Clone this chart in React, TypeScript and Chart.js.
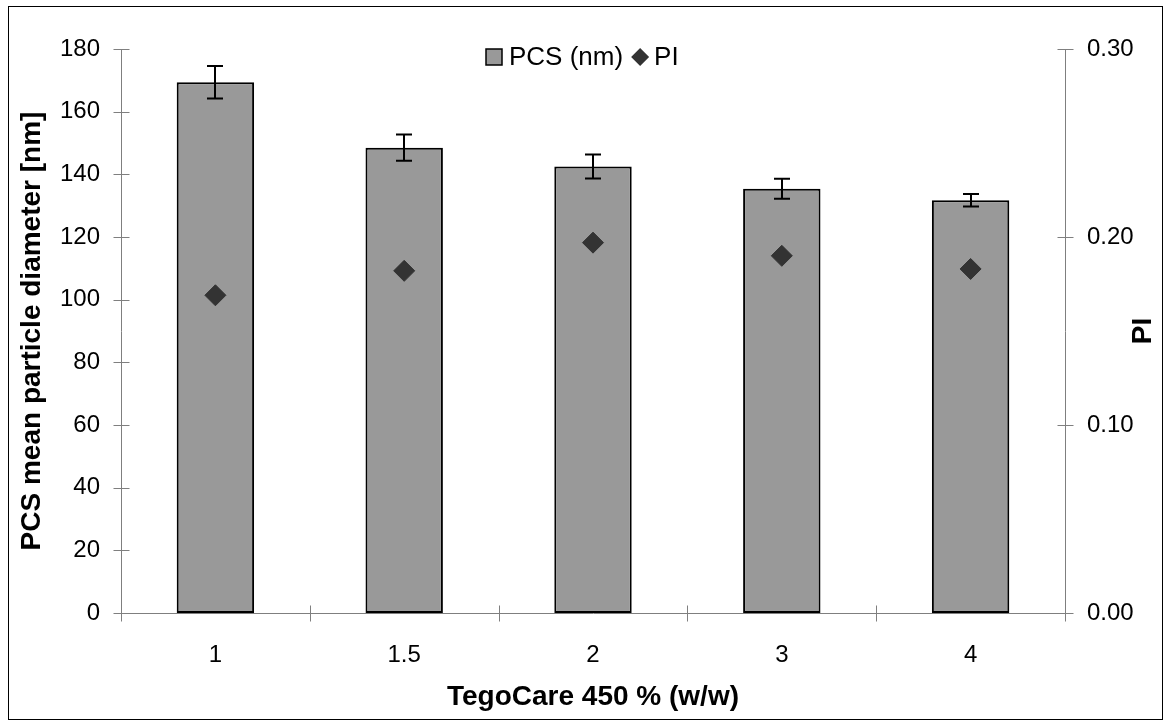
import React, { useEffect, useRef } from "react";
import { Chart, registerables } from "chart.js";

Chart.register(...registerables);

const categories = ["1", "1.5", "2", "3", "4"];
const pcsValues = [169.4, 148.5, 142.5, 135.4, 131.7];
const pcsErrors = [5.2, 4.2, 3.8, 3.2, 2.0];
const piValues = [0.169, 0.182, 0.197, 0.19, 0.183];
const leftTicks = [0, 20, 40, 60, 80, 100, 120, 140, 160, 180];
const rightTicks = [0, 0.1, 0.2, 0.3];
const rightTitle = "PI";

const FONT = "'Liberation Sans', Arial, sans-serif";
const AXIS_COLOR = "#7f7f7f";

const decorPlugin = {
  id: "decor",
  beforeDraw(chart: any) {
    const ctx = chart.ctx;
    ctx.save();
    ctx.fillStyle = "#ffffff";
    ctx.fillRect(0, 0, chart.width, chart.height);
    ctx.strokeStyle = "#000000";
    ctx.lineWidth = 1;
    ctx.strokeRect(8.5, 6.5, chart.width - 9, chart.height - 7);
    ctx.restore();
  },
  afterDraw(chart: any) {
    const ctx = chart.ctx;
    const { x, y, y1 } = chart.scales;
    ctx.save();
    ctx.strokeStyle = AXIS_COLOR;
    ctx.lineWidth = 1;
    ctx.beginPath();
    y.ticks.forEach((t: any) => {
      const py = Math.round(y.getPixelForValue(t.value)) + 0.5;
      const ax = Math.round(y.right) + 0.5;
      ctx.moveTo(ax - 8, py);
      ctx.lineTo(ax + 8, py);
    });
    y1.ticks.forEach((t: any) => {
      const py = Math.round(y1.getPixelForValue(t.value)) + 0.5;
      const ax = Math.round(y1.left) + 0.5;
      ctx.moveTo(ax - 8, py);
      ctx.lineTo(ax + 8, py);
    });
    const n = categories.length;
    const step = (x.right - x.left) / n;
    for (let i = 0; i <= n; i++) {
      const px = Math.round(x.left + i * step) + 0.5;
      const ay = Math.round(x.top) + 0.5;
      ctx.moveTo(px, ay - 8);
      ctx.lineTo(px, ay + 8);
    }
    ctx.stroke();

    // right axis title (rotated like Excel, reading upward)
    ctx.save();
    ctx.translate(1143, (chart.chartArea.top + chart.chartArea.bottom) / 2);
    ctx.rotate(-Math.PI / 2);
    ctx.font = `bold 28px ${FONT}`;
    ctx.fillStyle = "#000";
    ctx.textAlign = "center";
    ctx.textBaseline = "middle";
    ctx.fillText(rightTitle, 0, 0);
    ctx.restore();

    // custom legend
    const ds = chart.data.datasets;
    ctx.font = `26px ${FONT}`;
    ctx.textBaseline = "middle";
    const ly = 57;
    const lx = 486;
    ctx.fillStyle = "#999999";
    ctx.fillRect(lx, ly - 8, 16, 16);
    ctx.strokeStyle = "#000";
    ctx.lineWidth = 1.5;
    ctx.strokeRect(lx, ly - 8, 16, 16);
    ctx.fillStyle = "#000";
    ctx.textAlign = "left";
    ctx.fillText(ds[0].label, lx + 23, ly + 1);
    const w0 = ctx.measureText(ds[0].label).width;
    const dx = lx + 23 + w0 + 17;
    ctx.fillStyle = "#333333";
    ctx.beginPath();
    ctx.moveTo(dx - 9, ly);
    ctx.lineTo(dx, ly - 9);
    ctx.lineTo(dx + 9, ly);
    ctx.lineTo(dx, ly + 9);
    ctx.closePath();
    ctx.fill();
    ctx.fillStyle = "#000";
    ctx.fillText(ds[1].label, dx + 14, ly + 1);
    ctx.restore();
  },
  afterDatasetsDraw(chart: any) {
    const ctx = chart.ctx;
    const meta = chart.getDatasetMeta(0);
    const yScale = chart.scales.y;
    ctx.save();
    ctx.strokeStyle = "#000";
    ctx.lineWidth = 2;
    meta.data.forEach((bar: any, i: number) => {
      const v = pcsValues[i];
      const e = pcsErrors[i];
      const px = Math.round(bar.x);
      const top = yScale.getPixelForValue(v + e);
      const bot = yScale.getPixelForValue(v - e);
      ctx.beginPath();
      ctx.moveTo(px, top);
      ctx.lineTo(px, bot);
      ctx.moveTo(px - 8, top);
      ctx.lineTo(px + 8, top);
      ctx.moveTo(px - 8, bot);
      ctx.lineTo(px + 8, bot);
      ctx.stroke();
    });
    ctx.restore();
  },
};

export default function App() {
  const ref = useRef<HTMLCanvasElement | null>(null);
  useEffect(() => {
    if (!ref.current) return;
    const chart = new Chart(ref.current, {
      type: "bar",
      data: {
        labels: categories,
        datasets: [
          {
            type: "bar",
            label: "PCS (nm)",
            data: pcsValues,
            backgroundColor: "#999999",
            borderColor: "#000000",
            borderWidth: 2,
            borderSkipped: false,
            categoryPercentage: 1,
            barPercentage: 0.41,
            yAxisID: "y",
            order: 2,
          } as any,
          {
            type: "line",
            label: "PI",
            data: piValues,
            showLine: false,
            pointStyle: "rectRot",
            pointRadius: 10.5,
            pointBackgroundColor: "#333333",
            pointBorderColor: "#333333",
            pointBorderWidth: 1,
            yAxisID: "y1",
            order: 1,
          } as any,
        ],
      },
      options: {
        responsive: false,
        animation: false,
        events: [],
        layout: { padding: { top: 49, left: 0, right: 0, bottom: 0 }, autoPadding: false },
        plugins: { legend: { display: false }, tooltip: { enabled: false } },
        scales: {
          x: {
            grid: { display: false },
            border: { display: true, color: AXIS_COLOR, width: 1 },
            ticks: { color: "#000", font: { family: FONT, size: 24 }, padding: 20 },
            title: {
              display: true,
              text: "TegoCare 450 % (w/w)",
              color: "#000",
              font: { family: FONT, size: 28, weight: "bold" },
              padding: { top: 0, bottom: 6 },
            },
            afterFit: (s: any) => {
              s.height = 107;
            },
          },
          y: {
            position: "left",
            min: 0,
            max: 180,
            afterBuildTicks: (s: any) => {
              s.ticks = leftTicks.map((v) => ({ value: v }));
            },
            grid: { display: false },
            border: { display: true, color: AXIS_COLOR, width: 1 },
            ticks: { color: "#000", font: { family: FONT, size: 24 }, padding: 13 },
            title: {
              display: true,
              text: "PCS mean particle diameter [nm]",
              color: "#000",
              font: { family: FONT, size: 28, weight: "bold" },
              padding: { top: 15, bottom: 0 },
            },
            afterFit: (s: any) => {
              s.width = 121;
            },
          },
          y1: {
            position: "right",
            min: 0,
            max: 0.3,
            afterBuildTicks: (s: any) => {
              s.ticks = rightTicks.map((v) => ({ value: v }));
            },
            grid: { display: false },
            border: { display: true, color: AXIS_COLOR, width: 1 },
            ticks: {
              color: "#000",
              font: { family: FONT, size: 24 },
              padding: 14,
              callback: (v: any) => Number(v).toFixed(2),
            },
            title: { display: false },
            afterFit: (s: any) => {
              s.width = 98;
            },
          },
        },
      } as any,
      plugins: [decorPlugin],
    });
    return () => chart.destroy();
  }, []);
  return (
    <div style={{ position: "absolute", left: 0, top: 0, width: 1163, height: 720 }}>
      <canvas ref={ref} width={1163} height={720} style={{ width: 1163, height: 720, display: "block" }} />
    </div>
  );
}
